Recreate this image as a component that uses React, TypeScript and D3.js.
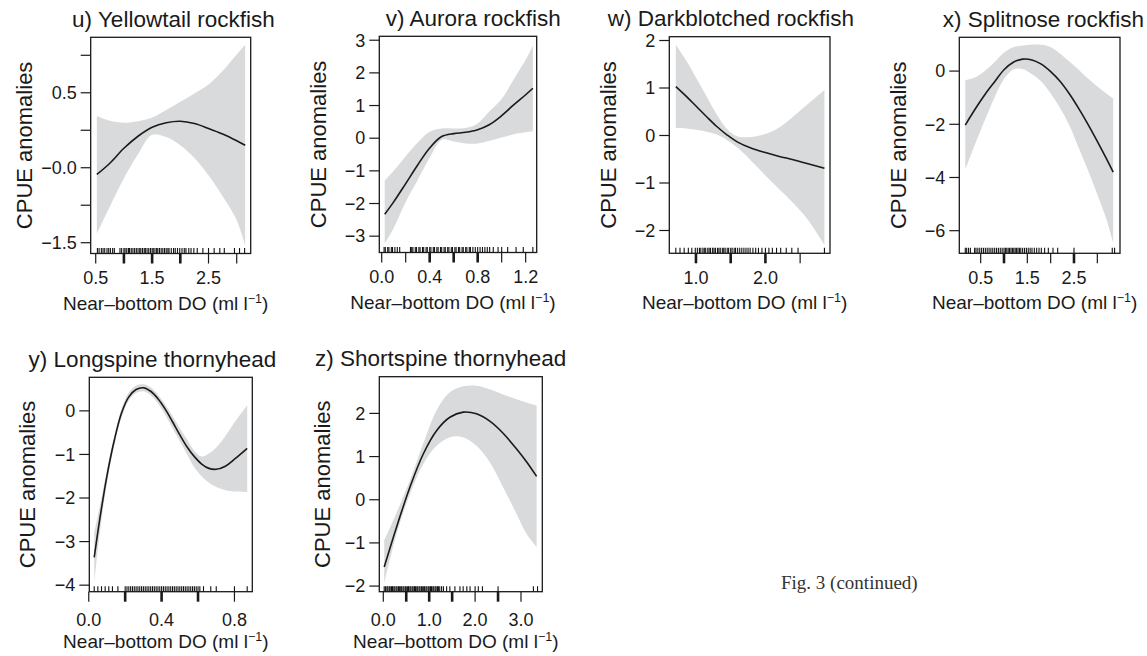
import React from 'react';
import * as d3 from 'd3';

// ---------- u) Yellowtail rockfish ----------
const uX = [0.52, 0.75, 1.0, 1.25, 1.5, 1.75, 2.0, 2.25, 2.5, 2.75, 3.0, 3.15];
const uFit = [-0.045, 0.03, 0.13, 0.21, 0.27, 0.3, 0.31, 0.295, 0.262, 0.225, 0.18, 0.15];
const uLo = [-0.44, -0.26, -0.07, 0.09, 0.22, 0.205, 0.15, 0.065, -0.05, -0.19, -0.35, -0.52];
const uHi = [0.345, 0.313, 0.3, 0.31, 0.335, 0.385, 0.44, 0.495, 0.555, 0.645, 0.755, 0.82];
const uRug = [0.53, 0.56, 0.6, 0.63, 0.66, 0.7, 0.73, 0.76, 0.8, 0.83, 0.93, 0.96, 1.0, 1.02, 1.05, 1.08, 1.1, 1.13, 1.16, 1.19, 1.22, 1.25, 1.28, 1.3, 1.33, 1.36, 1.38, 1.41, 1.44, 1.47, 1.5, 1.52, 1.55, 1.58, 1.6, 1.63, 1.66, 1.69, 1.72, 1.75, 1.78, 1.8, 1.84, 1.88, 1.91, 1.95, 1.99, 2.03, 2.07, 2.1, 2.15, 2.19, 2.24, 2.3, 2.4, 2.5, 2.6, 2.7, 2.78, 2.96, 3.05, 3.14];
const uXTicks = [0.5, 1.0, 1.5, 2.0, 2.5, 3.0];
const uXLabels = ['0.5', '', '1.5', '', '2.5', ''];
const uXBold = [1.0, 1.5, 2.0];
const uYTicks = [-0.5, -0.25, 0, 0.25, 0.5, 0.75];
const uYLabels = ['\u22121.5', '', '\u22120.0', '', '0.5', ''];

// ---------- v) Aurora rockfish ----------
const vX = [0.025, 0.1, 0.2, 0.3, 0.4, 0.5, 0.6, 0.7, 0.8, 0.9, 1.0, 1.1, 1.2, 1.26];
const vFit = [-2.33, -1.95, -1.39, -0.82, -0.3, 0.05, 0.14, 0.18, 0.26, 0.42, 0.69, 1.02, 1.33, 1.53];
const vLo = [-3.23, -2.75, -1.95, -1.28, -0.6, -0.05, -0.1, -0.16, -0.16, -0.08, 0.02, 0.12, 0.18, 0.21];
const vHi = [-1.3, -1.0, -0.55, -0.13, 0.2, 0.3, 0.3, 0.31, 0.45, 0.83, 1.2, 1.8, 2.4, 2.83];
const vRug = [0.02, 0.03, 0.05, 0.06, 0.08, 0.09, 0.11, 0.13, 0.15, 0.24, 0.25, 0.26, 0.28, 0.29, 0.31, 0.32, 0.34, 0.35, 0.37, 0.38, 0.4, 0.41, 0.43, 0.44, 0.46, 0.47, 0.49, 0.5, 0.52, 0.53, 0.55, 0.56, 0.58, 0.59, 0.61, 0.62, 0.64, 0.65, 0.67, 0.68, 0.7, 0.71, 0.73, 0.74, 0.76, 0.78, 0.8, 0.82, 0.84, 0.86, 0.88, 0.9, 0.93, 0.97, 1.0, 1.05, 1.12, 1.18, 1.26];
const vXTicks = [0.0, 0.2, 0.4, 0.6, 0.8, 1.0, 1.2];
const vXLabels = ['0.0', '', '0.4', '', '0.8', '', '1.2'];
const vXBold = [0.4, 0.6, 0.8];
const vYTicks = [-3, -2, -1, 0, 1, 2, 3];
const vYLabels = ['\u22123', '\u22122', '\u22121', '0', '1', '2', '3'];

// ---------- w) Darkblotched rockfish ----------
const wX = [0.71, 0.85, 1.0, 1.15, 1.3, 1.45, 1.6, 1.8, 2.0, 2.2, 2.4, 2.6, 2.85];
const wFit = [1.03, 0.84, 0.62, 0.4, 0.19, 0.01, -0.14, -0.27, -0.36, -0.44, -0.51, -0.59, -0.69];
const wLo = [0.16, 0.15, 0.12, 0.08, 0.02, -0.1, -0.26, -0.54, -0.84, -1.13, -1.42, -1.75, -2.3];
const wHi = [1.91, 1.6, 1.22, 0.83, 0.44, 0.13, -0.02, -0.03, 0.03, 0.17, 0.4, 0.65, 0.96];
const wRug = [0.71, 0.77, 0.83, 0.89, 0.94, 0.99, 1.02, 1.05, 1.07, 1.1, 1.12, 1.14, 1.17, 1.19, 1.21, 1.24, 1.26, 1.28, 1.31, 1.33, 1.35, 1.38, 1.4, 1.42, 1.45, 1.47, 1.5, 1.52, 1.55, 1.57, 1.6, 1.63, 1.66, 1.69, 1.72, 1.75, 1.78, 1.82, 1.86, 1.9, 1.95, 2.0, 2.05, 2.1, 2.16, 2.22, 2.3, 2.38, 2.47, 2.85];
const wXTicks = [1.0, 1.5, 2.0, 2.5];
const wXLabels = ['1.0', '', '2.0', ''];
const wXBold = [1.0, 1.5, 2.0];
const wYTicks = [-2, -1, 0, 1, 2];
const wYLabels = ['\u22122', '\u22121', '0', '1', '2'];

// ---------- x) Splitnose rockfish ----------
const xX = [0.17, 0.4, 0.6, 0.8, 1.0, 1.2, 1.4, 1.6, 1.8, 2.0, 2.2, 2.4, 2.6, 2.8, 3.0, 3.2, 3.34];
const xFit = [-2.03, -1.38, -0.86, -0.4, 0.05, 0.33, 0.45, 0.42, 0.26, -0.02, -0.38, -0.85, -1.4, -2.0, -2.64, -3.31, -3.8];
const xLo = [-3.71, -2.66, -1.8, -0.98, -0.3, 0.06, 0.08, -0.12, -0.39, -0.84, -1.38, -2.04, -2.88, -3.73, -4.64, -5.6, -6.46];
const xHi = [-0.34, -0.22, 0.02, 0.34, 0.7, 0.9, 0.96, 1.0, 0.99, 0.9, 0.66, 0.36, 0.05, -0.28, -0.58, -0.85, -1.03];
const xRug = [0.17, 0.2, 0.24, 0.28, 0.37, 0.4, 0.44, 0.48, 0.52, 0.56, 0.6, 0.64, 0.68, 0.72, 0.76, 0.8, 0.84, 0.88, 0.92, 0.96, 1.0, 1.03, 1.06, 1.09, 1.12, 1.15, 1.18, 1.21, 1.24, 1.27, 1.3, 1.33, 1.36, 1.4, 1.44, 1.48, 1.52, 1.56, 1.6, 1.65, 1.7, 1.75, 1.8, 1.87, 1.95, 2.05, 2.15, 2.5, 3.32, 3.37];
const xXTicks = [0.5, 1.0, 1.5, 2.0, 2.5, 3.0];
const xXLabels = ['0.5', '', '1.5', '', '2.5', ''];
const xXBold = [1.0, 2.5];
const xYTicks = [-6, -4, -2, 0];
const xYLabels = ['\u22126', '\u22124', '\u22122', '0'];

// ---------- y) Longspine thornyhead ----------
const yX = [0.03, 0.06, 0.1, 0.14, 0.18, 0.22, 0.26, 0.3, 0.34, 0.38, 0.42, 0.46, 0.5, 0.54, 0.58, 0.62, 0.66, 0.7, 0.75, 0.8, 0.87];
const yFit = [-3.36, -2.5, -1.49, -0.68, -0.05, 0.32, 0.49, 0.53, 0.45, 0.28, 0.04, -0.25, -0.55, -0.83, -1.05, -1.22, -1.32, -1.34, -1.27, -1.11, -0.86];
const yLo = [-3.96, -2.82, -1.66, -0.8, -0.15, 0.24, 0.41, 0.45, 0.36, 0.17, -0.09, -0.4, -0.7, -1.0, -1.3, -1.5, -1.65, -1.75, -1.82, -1.85, -1.86];
const yHi = [-2.8, -2.2, -1.35, -0.58, 0.05, 0.42, 0.58, 0.61, 0.54, 0.37, 0.14, -0.12, -0.4, -0.66, -0.92, -1.05, -0.98, -0.84, -0.58, -0.27, 0.13];
const yRug = [0.03, 0.05, 0.07, 0.09, 0.11, 0.13, 0.16, 0.2, 0.21, 0.22, 0.23, 0.24, 0.25, 0.26, 0.27, 0.28, 0.29, 0.3, 0.31, 0.32, 0.33, 0.34, 0.35, 0.36, 0.37, 0.38, 0.39, 0.4, 0.41, 0.42, 0.43, 0.44, 0.45, 0.46, 0.47, 0.48, 0.49, 0.5, 0.51, 0.52, 0.53, 0.54, 0.55, 0.56, 0.57, 0.58, 0.59, 0.6, 0.61, 0.63, 0.67, 0.7, 0.8, 0.87];
const yXTicks = [0.0, 0.2, 0.4, 0.6, 0.8];
const yXLabels = ['0.0', '', '0.4', '', '0.8'];
const yXBold = [0.2, 0.4, 0.6];
const yYTicks = [-4, -3, -2, -1, 0];
const yYLabels = ['\u22124', '\u22123', '\u22122', '\u22121', '0'];

// ---------- z) Shortspine thornyhead ----------
const zX = [0.02, 0.29, 0.58, 0.87, 1.16, 1.45, 1.74, 2.03, 2.32, 2.61, 2.9, 3.12, 3.34];
const zFit = [-1.56, -0.63, 0.29, 1.06, 1.6, 1.91, 2.03, 1.99, 1.82, 1.54, 1.18, 0.88, 0.54];
const zLo = [-1.94, -0.79, 0.13, 0.83, 1.25, 1.45, 1.45, 1.25, 0.87, 0.29, -0.32, -0.79, -1.1];
const zHi = [-0.94, -0.3, 0.45, 1.3, 2.07, 2.49, 2.63, 2.64, 2.56, 2.44, 2.33, 2.25, 2.18];
const zRug = [0.02, 0.05, 0.08, 0.1, 0.13, 0.15, 0.18, 0.2, 0.23, 0.25, 0.28, 0.3, 0.33, 0.35, 0.38, 0.4, 0.43, 0.45, 0.48, 0.5, 0.53, 0.55, 0.58, 0.6, 0.63, 0.65, 0.68, 0.7, 0.73, 0.75, 0.78, 0.8, 0.83, 0.85, 0.88, 0.9, 0.93, 0.95, 0.98, 1.0, 1.03, 1.05, 1.08, 1.1, 1.13, 1.15, 1.18, 1.2, 1.23, 1.27, 1.31, 1.38, 1.45, 1.56, 1.67, 1.74, 1.82, 1.89, 2.0, 2.07, 2.16, 2.5, 3.27, 3.36];
const zXTicks = [0.0, 0.5, 1.0, 1.5, 2.0, 2.5, 3.0];
const zXLabels = ['0.0', '', '1.0', '', '2.0', '', '3.0'];
const zXBold = [0.5, 1.0, 1.5, 2.5];
const zYTicks = [-2, -1, 0, 1, 2];
const zYLabels = ['\u22122', '\u22121', '0', '1', '2'];

const titles = ['u) Yellowtail rockfish', 'v) Aurora rockfish', 'w) Darkblotched rockfish', 'x) Splitnose rockfish', 'y) Longspine thornyhead', 'z) Shortspine thornyhead'];

const panels = [
  { title: titles[0], x: uX, fit: uFit, lo: uLo, hi: uHi, rug: uRug, xTicks: uXTicks, xLabels: uXLabels, xBold: uXBold, yTicks: uYTicks, yLabels: uYLabels },
  { title: titles[1], x: vX, fit: vFit, lo: vLo, hi: vHi, rug: vRug, xTicks: vXTicks, xLabels: vXLabels, xBold: vXBold, yTicks: vYTicks, yLabels: vYLabels },
  { title: titles[2], x: wX, fit: wFit, lo: wLo, hi: wHi, rug: wRug, xTicks: wXTicks, xLabels: wXLabels, xBold: wXBold, yTicks: wYTicks, yLabels: wYLabels },
  { title: titles[3], x: xX, fit: xFit, lo: xLo, hi: xHi, rug: xRug, xTicks: xXTicks, xLabels: xXLabels, xBold: xXBold, yTicks: xYTicks, yLabels: xYLabels },
  { title: titles[4], x: yX, fit: yFit, lo: yLo, hi: yHi, rug: yRug, xTicks: yXTicks, xLabels: yXLabels, xBold: yXBold, yTicks: yYTicks, yLabels: yYLabels },
  { title: titles[5], x: zX, fit: zFit, lo: zLo, hi: zHi, rug: zRug, xTicks: zXTicks, xLabels: zXLabels, xBold: zXBold, yTicks: zYTicks, yLabels: zYLabels },
];

// layout (pixel boxes and visible domains)
const layout = [
  { left: 90.7, top: 37.3, w: 160, h: 216.2, xDom: [0.411, 3.248], yDom: [-0.572, 0.87], ylabOff: 59, tickLabOff: 30.5 },
  { left: 379.3, top: 36.3, w: 157.4, h: 216.2, xDom: [-0.02, 1.292], yDom: [-3.5, 3.12], ylabOff: 53, tickLabOff: 30.5 },
  { left: 669.3, top: 36.7, w: 160.7, h: 216.6, xDom: [0.616, 2.93], yDom: [-2.48, 2.08], ylabOff: 53, tickLabOff: 30.5 },
  { left: 959.3, top: 37.3, w: 160.7, h: 216, xDom: [0.042, 3.486], yDom: [-6.85, 1.27], ylabOff: 53, tickLabOff: 30.5 },
  { left: 89.3, top: 377.3, w: 163, h: 214.4, xDom: [0.003, 0.898], yDom: [-4.15, 0.77], ylabOff: 54, tickLabOff: 34 },
  { left: 379.3, top: 376.7, w: 163, h: 215, xDom: [-0.087, 3.464], yDom: [-2.13, 2.85], ylabOff: 49, tickLabOff: 34 },
];

const FONT = "'Liberation Sans', Arial, Helvetica, sans-serif";
const INK = '#1a1a1a';

function Panel({ p, l }: { p: any; l: any }) {
  const xs = d3.scaleLinear().domain(l.xDom).range([l.left, l.left + l.w]);
  const ys = d3.scaleLinear().domain(l.yDom).range([l.top + l.h, l.top]);
  const idx = p.x.map((_: number, i: number) => i);
  const area = d3
    .area<number>()
    .x((i) => xs(p.x[i]))
    .y0((i) => ys(p.lo[i]))
    .y1((i) => ys(p.hi[i]))
    .curve(d3.curveCatmullRom.alpha(0.5));
  const line = d3
    .line<number>()
    .x((i) => xs(p.x[i]))
    .y((i) => ys(p.fit[i]))
    .curve(d3.curveCatmullRom.alpha(0.5));
  const bottom = l.top + l.h;
  const right = l.left + l.w;
  const cx = l.left + l.w / 2;
  const cy = l.top + l.h / 2;
  return (
    <g>
      <path d={area(idx) || ''} fill="#d9dadb" stroke="none" />
      <path d={line(idx) || ''} fill="none" stroke={INK} strokeWidth={1.6} />
      {p.rug.map((v: number, i: number) => (
        <line key={'r' + i} x1={xs(v)} x2={xs(v)} y1={bottom} y2={bottom - 5.5} stroke="#111" strokeWidth={1.1} />
      ))}
      <rect x={l.left} y={l.top} width={l.w} height={l.h} fill="none" stroke={INK} strokeWidth={1.3} />
      {p.xTicks.map((t: number, i: number) => (
        <g key={'xt' + i}>
          <line
            x1={xs(t)}
            x2={xs(t)}
            y1={bottom}
            y2={bottom + 10}
            stroke={INK}
            strokeWidth={p.xBold.includes(t) ? 2.6 : 1.2}
          />
          {p.xLabels[i] ? (
            <text x={xs(t)} y={bottom + l.tickLabOff} textAnchor="middle" fontSize={18} fontFamily={FONT} fill={INK}>
              {p.xLabels[i]}
            </text>
          ) : null}
        </g>
      ))}
      {p.yTicks.map((t: number, i: number) => (
        <g key={'yt' + i}>
          <line x1={l.left - 10} x2={l.left} y1={ys(t)} y2={ys(t)} stroke={INK} strokeWidth={1.2} />
          {p.yLabels[i] ? (
            <text x={l.left - 14} y={ys(t)} dy="0.35em" textAnchor="end" fontSize={18} fontFamily={FONT} fill={INK}>
              {p.yLabels[i]}
            </text>
          ) : null}
        </g>
      ))}
      <text
        transform={`translate(${l.left - l.ylabOff},${cy}) rotate(-90)`}
        textAnchor="middle"
        fontSize={22}
        fontFamily={FONT}
        fill={INK}
      >
        CPUE anomalies
      </text>
      <text x={cx - 5} y={bottom + 56} textAnchor="middle" fontSize={19} fontFamily={FONT} fill={INK}>
        Near–bottom DO (ml l
        <tspan fontSize={12.5} dy={-7}>
          −1
        </tspan>
        <tspan dy={7}>)</tspan>
      </text>
      <text x={right + 24} y={l.top - 10.5} textAnchor="end" fontSize={22.5} fontFamily={FONT} fill={INK}>
        {p.title}
      </text>
    </g>
  );
}

export default function App() {
  return (
    <svg
      width={1147}
      height={656}
      viewBox="0 0 1147 656"
      style={{ position: 'absolute', left: 0, top: 0, background: '#fff' }}
    >
      <rect x={0} y={0} width={1147} height={656} fill="#fff" />
      {panels.map((p, i) => (
        <Panel key={i} p={p} l={layout[i]} />
      ))}
      <text x={781} y={589} fontSize={19} fontFamily="'Liberation Serif', 'Times New Roman', serif" fill="#333">
        Fig. 3 (continued)
      </text>
    </svg>
  );
}
